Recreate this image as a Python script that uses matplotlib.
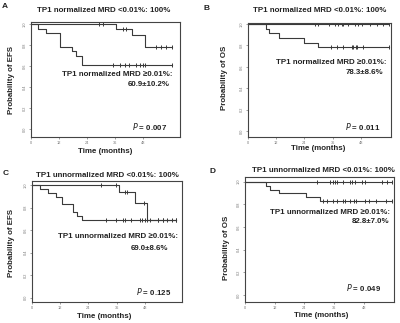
import numpy as np
import matplotlib
matplotlib.use("Agg")
import matplotlib.pyplot as plt

plt.rcParams['font.family'] = ['Liberation Sans', 'DejaVu Sans']

# ---- data ----
# A: EFS, normalized MRD
a_low_t = [3, 6.5, 12.5, 17.5, 19.5, 22]
a_low_s = [0.957, 0.913, 0.783, 0.739, 0.696, 0.609]
a_low_c = [35.3, 38.4, 40.3, 42, 45.3, 46.7, 47.9, 48.9, 60.7]
a_top_t = [36.5, 43.5, 49.0]
a_top_s = [0.95, 0.895, 0.78]
a_top_c = [29, 31, 39.5, 41, 53.5, 56, 58, 60.7]

# B: OS, normalized MRD
b_low_t = [7.6, 9.0, 13.3, 24.0, 29.9]
b_low_s = [0.957, 0.913, 0.870, 0.826, 0.783]
b_low_c = [35.3, 37.7, 40.5, 44, 44.7, 45.8, 46.2, 48.7, 59.8]
b_top_t = []
b_top_s = []
b_top_c = [28.5, 30, 34.6, 37, 38.4, 39.8, 40.5, 42.6, 45.5, 46.9, 48.3, 51.8, 54.7, 57.5, 59.8]

# C: EFS, unnormalized MRD
c_low_t = [3.5, 7, 10.3, 12.7, 17.6, 19, 21.2]
c_low_s = [0.966, 0.931, 0.897, 0.828, 0.759, 0.724, 0.690]
c_low_c = [31.5, 35.7, 38.6, 39.5, 41.9, 45.9, 46.6, 48, 48.7, 50.1, 53.6, 55.8, 61.1]
c_top_t = [36.9, 43.8, 48.9]
c_top_s = [0.94, 0.843, 0.69]
c_top_c = [29.2, 35.6, 39.5, 40.5, 47.8, 53.6, 55.8, 57.5, 59.5, 61.1]

# D: OS, unnormalized MRD
d_low_t = [8.5, 10.1, 13.9, 24.7, 30.4]
d_low_s = [0.966, 0.931, 0.897, 0.862, 0.828]
d_low_c = [31.5, 33.3, 35.7, 37.4, 39.7, 40.4, 42.5, 43.9, 45, 48.6, 50.2, 53, 57, 59.6]
d_top_t = []
d_top_s = []
d_top_c = [29, 34.4, 35.7, 36.4, 37.4, 39.8, 42.5, 43.2, 44.5, 47.2, 48.6, 55.3, 57.4, 59.6]

titles = ["TP1 normalized MRD <0.01%: 100%", "TP1 normalized MRD <0.01%: 100%",
          "TP1 unnormalized MRD <0.01%: 100%", "TP1 unnormalized MRD <0.01%: 100%"]
inner1 = ["TP1 normalized MRD \u22650.01%:", "TP1 normalized MRD \u22650.01%:",
          "TP1 unnormalized MRD \u22650.01%:", "TP1 unnormalized MRD \u22650.01%:"]
inner2 = ["60.9\u00b110.2%", "78.3\u00b18.6%", "69.0\u00b18.6%", "82.8\u00b17.0%"]
pvals = ["0.007", "0.011", "0.125", "0.049"]
ylabels = ["Probability of EFS", "Probability of OS", "Probability of EFS", "Probability of OS"]
letters = ["A", "B", "C", "D"]
xticks = [0, 12, 24, 36, 48]
yticks = [0.0, 0.2, 0.4, 0.6, 0.8, 1.0]

W, H = 400, 323
fig = plt.figure(figsize=(4, 3.23), dpi=100)


def px(x, y):
    return x / W, 1 - y / H


# panel layout in pixels: left, right, top, bottom, xmax, ymin, ymax
boxes = [(31, 180, 22, 137, 64, -0.073, 1.019),
         (247.7, 390.7, 23.3, 136.7, 60.6, -0.053, 1.007),
         (31.7, 181.7, 181, 301.7, 63.6, -0.035, 1.035),
         (245, 394.3, 176.7, 301.7, 60.4, -0.059, 1.044)]

# text positions in pixels
title_pos = [(104, 10), (320, 11), (107, 175.5), (323, 170.5)]
in1_pos = [(172, 75), (386.5, 62), (178, 237), (390, 212)]
in2_pos = [(170, 85), (383, 72.5), (168, 248), (389, 221.5)]
p_pos = [(167, 126), (380, 127), (171, 291.5), (381.5, 287.5)]
ylab_pos = [(12, 80), (225, 78), (11.5, 243), (226.5, 248)]
xlab_pos = [(105, 151), (318, 148), (104, 316.5), (321.5, 315.5)]
let_pos = [(2, 3), (204, 5), (3, 170), (210, 168)]

curves = [
    (a_low_t, a_low_s, a_low_c, a_top_t, a_top_s, a_top_c),
    (b_low_t, b_low_s, b_low_c, b_top_t, b_top_s, b_top_c),
    (c_low_t, c_low_s, c_low_c, c_top_t, c_top_s, c_top_c),
    (d_low_t, d_low_s, d_low_c, d_top_t, d_top_s, d_top_c),
]

col = "#3a3a3a"
fs = 5.7


def km(ax, t, s, cens):
    end = max(cens)
    tt = np.array([0] + list(t) + [end])
    ss = np.array([1.0] + list(s) + [s[-1] if len(s) else 1.0])
    ax.step(tt, ss, where="post", color=col, lw=0.8)
    idx = np.searchsorted(tt, cens, side="right") - 1
    ax.plot(cens, ss[idx], ls="none", marker="|", ms=2.5, mew=0.7, color=col)


for i in range(4):
    l, r, t, b, xmax, ymin, ymax = boxes[i]
    x0, y1 = px(l, t)
    x1, y0 = px(r, b)
    ax = fig.add_axes([x0, y0, x1 - x0, y1 - y0])
    lt, ls_, lc, tt_, ts, tc = curves[i]
    km(ax, tt_, ts, tc)
    km(ax, lt, ls_, lc)
    ax.set_xlim(0, xmax)
    ax.set_ylim(ymin, ymax)
    ax.set_xticks(xticks)
    ax.set_xticklabels([str(v) for v in xticks], fontsize=2.8, color="#777777")
    ax.set_yticks(yticks)
    ax.set_yticklabels(["%.1f" % v for v in yticks], fontsize=2.8, color="#777777",
                       rotation=90, va="center")
    ax.tick_params(length=1.5, width=0.5, pad=1.5, colors="#777777")
    for sp in ax.spines.values():
        sp.set_linewidth(0.8)
        sp.set_color("#444444")

    fig.text(*px(*title_pos[i]), titles[i], ha="center", va="center",
             fontsize=fs, fontweight="bold", color="#222222")
    fig.text(*px(*in1_pos[i]), inner1[i], ha="right", va="center",
             fontsize=fs, fontweight="bold", color="#222222")
    fig.text(*px(*in2_pos[i]), inner2[i], ha="right", va="center",
             fontsize=fs, fontweight="bold", color="#222222")
    fig.text(*px(*p_pos[i]), r"$\bf{\it{P}}$ = " + pvals[i], ha="right", va="center",
             fontsize=fs, fontweight="bold", color="#222222")
    fig.text(*px(*ylab_pos[i]), ylabels[i], ha="center", va="center", rotation=90,
             fontsize=fs, fontweight="bold", color="#222222")
    fig.text(*px(*xlab_pos[i]), "Time (months)", ha="center", va="center",
             fontsize=fs, fontweight="bold", color="#222222")
    fig.text(*px(*let_pos[i]), letters[i], ha="left", va="top",
             fontsize=6, fontweight="bold", color="#222222")

fig.savefig("out.png", dpi=100)
